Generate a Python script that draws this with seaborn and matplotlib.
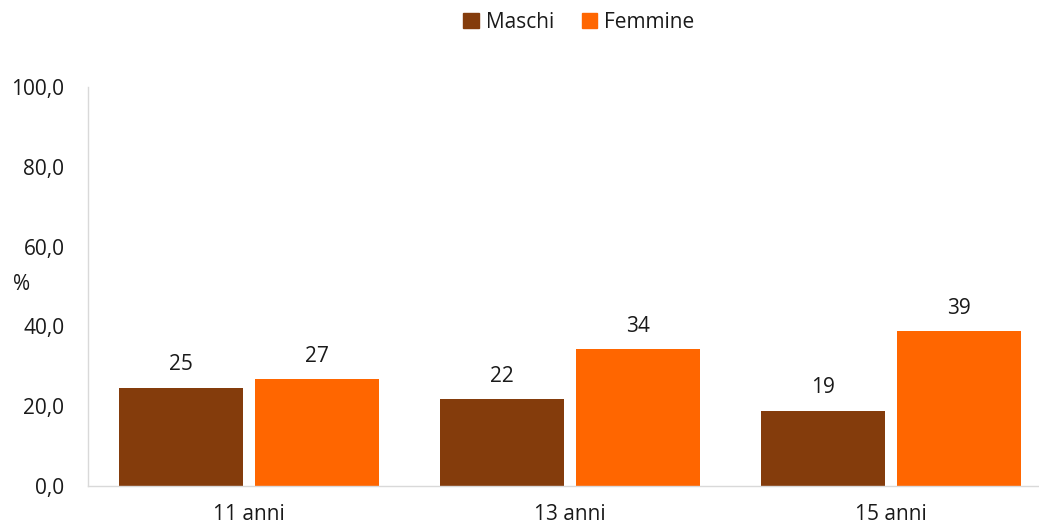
import matplotlib
matplotlib.use("Agg")
import matplotlib.pyplot as plt
import seaborn as sns
import pandas as pd
from matplotlib.patches import Patch

categories = ["11 anni", "13 anni", "15 anni"]
maschi = [24.6, 21.8, 18.8]
femmine = [26.8, 34.3, 38.8]
series_names = ["Maschi", "Femmine"]
colors = ["#843C0C", "#FF6600"]
y_ticks = [0, 20, 40, 60, 80, 100]

df = pd.DataFrame({
    "cat": categories * 2,
    "val": maschi + femmine,
    "sex": [series_names[0]] * 3 + [series_names[1]] * 3,
})

sns.set_theme(style="white")
plt.rcParams["font.family"] = ["Open Sans", "DejaVu Sans"]

FS = 15
TXT = "#1a1a1a"
W, H = 1039, 526
fig = plt.figure(figsize=(W / 100, H / 100), dpi=100)
ax = fig.add_axes([88 / W, 1 - 486 / H, 964 / W, (486 - 87) / H])

sns.barplot(data=df, x="cat", y="val", hue="sex", palette=colors,
            width=0.846, gap=0.088, ax=ax, legend=False, saturation=1,
            errorbar=None, linewidth=0)

for cont in ax.containers:
    ax.bar_label(cont, labels=[f"{v:.0f}" for v in cont.datavalues],
                 padding=9, fontsize=FS, color=TXT)

ax.set_ylim(0, 100)
ax.set_yticks(y_ticks)
ax.set_yticklabels([f"{v:.1f}".replace(".", ",") for v in y_ticks])
ax.set_xlim(-0.5, 2.5)
ax.set_xlabel("")
ax.set_ylabel("")
ax.tick_params(axis="y", length=0, pad=17, labelsize=FS, labelcolor=TXT)
ax.tick_params(axis="x", length=0, pad=13, labelsize=FS, labelcolor=TXT)
for s in ["top", "right"]:
    ax.spines[s].set_visible(False)
for s in ["left", "bottom"]:
    ax.spines[s].set_color("#d9d9d9")
    ax.spines[s].set_linewidth(1)

fig.text(22 / W, 1 - 285 / H, "%", fontsize=FS, color=TXT,
         ha="center", va="center")

handles = [Patch(facecolor=c, edgecolor=c) for c in colors]
fig.legend(handles, series_names, loc="center", bbox_to_anchor=(579 / W, 1 - 22 / H),
           ncol=2, frameon=False, fontsize=FS, handlelength=0.75, handleheight=0.75,
           handletextpad=0.35, columnspacing=1.3, labelcolor=TXT)

fig.savefig("out.png", dpi=100)
